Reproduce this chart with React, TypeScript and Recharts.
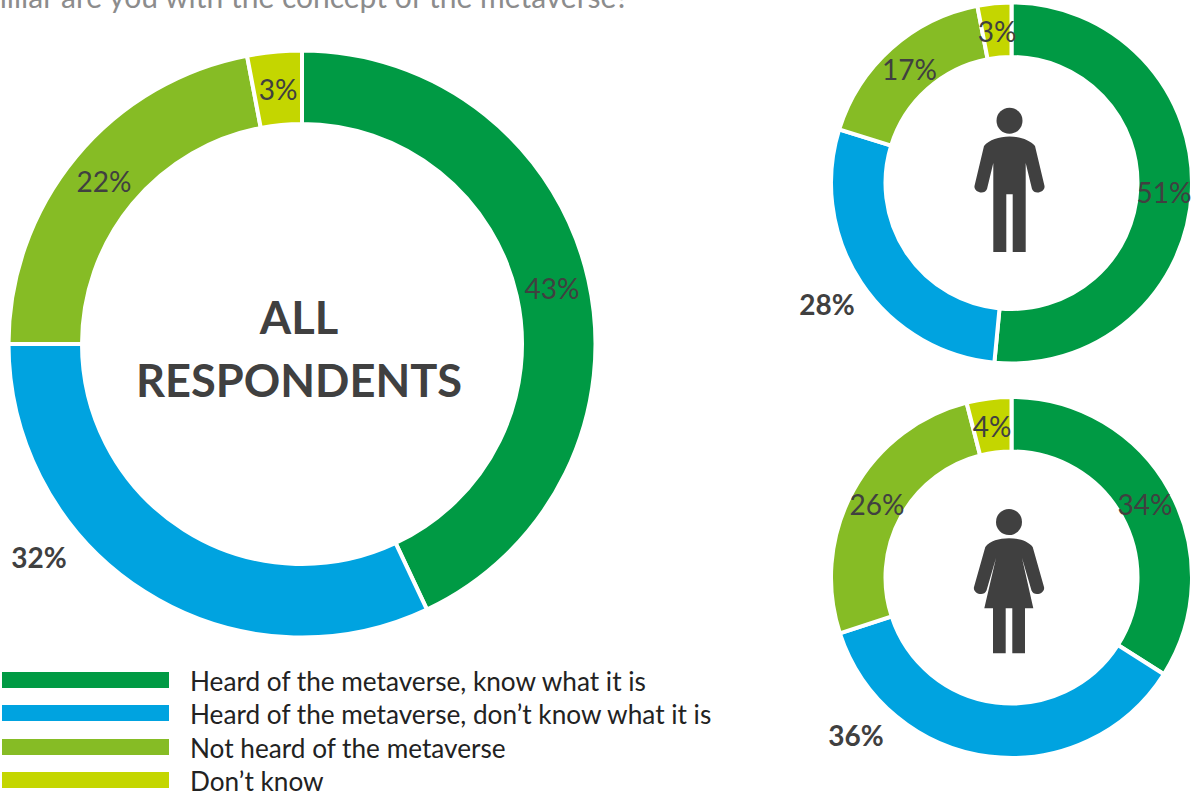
import { PieChart, Pie, Cell, Legend } from "recharts";

const categories = [
  "Heard of the metaverse, know what it is",
  "Heard of the metaverse, don\u2019t know what it is",
  "Not heard of the metaverse",
  "Don\u2019t know",
];
const allValues = [43, 32, 22, 3];
const menValues = [51, 28, 17, 3];
const womenValues = [34, 36, 26, 4];

const COLORS = ["#009A44", "#00A3E0", "#86BC25", "#C4D600"];
const TEXT = "#404040";
const FONT = "Lato, 'Open Sans', sans-serif";

// label spots, measured from the centre of each ring
const allSpots = [[250, -56.5], [-263, 212.5], [-198, -163.5], [-24, -255.5]];
const menSpots = [[152.5, 8.5], [-184.5, 120.5], [-102, -114.5], [-14.5, -152.5]];
const womenSpots = [[133.5, -74], [-155.5, 157], [-134.5, -74], [-19.5, -152]];

const toRows = (values: number[]) =>
  categories.map((name, i) => ({ name, value: values[i] }));

function ringLabel(spots: number[][], outsideIndex: number) {
  return (p: any) => (
    <text
      x={p.cx + spots[p.index][0]}
      y={p.cy + spots[p.index][1]}
      textAnchor="middle"
      dominantBaseline="central"
      fontFamily={FONT}
      fontSize={28}
      fontWeight={p.index === outsideIndex ? 700 : 400}
      fill={TEXT}
    >
      {p.value}%
    </text>
  );
}

function LegendRows() {
  return (
    <div style={{ fontFamily: FONT, fontSize: 26.2, lineHeight: "24px", color: "#222" }}>
      {categories.map((c, i) => (
        <div key={c} style={{ display: "flex", alignItems: "center", height: 33.3 }}>
          <div style={{ width: 167, height: 16, marginLeft: 2, background: COLORS[i] }} />
          <div style={{ marginLeft: 21, whiteSpace: "nowrap", position: "relative", top: 1 }}>{c}</div>
        </div>
      ))}
    </div>
  );
}

export default function App() {
  return (
    <div style={{ position: "absolute", left: 0, top: 0, width: 1195, height: 793, overflow: "hidden", background: "#fff" }}>
      <PieChart width={1195} height={793} margin={{ top: 0, right: 0, bottom: 0, left: 0 }}>
        <text x={629} y={8} textAnchor="end" fontFamily={FONT} fontSize={30} fill="#8C8C8C">
          How familiar are you with the concept of the metaverse?
        </text>

        <Pie
          data={toRows(allValues)}
          dataKey="value"
          cx={302}
          cy={344}
          innerRadius={220}
          outerRadius={293.5}
          startAngle={90}
          endAngle={-270}
          stroke="#fff"
          strokeWidth={4}
          label={ringLabel(allSpots, 1)}
          labelLine={false}
          isAnimationActive={false}
        >
          {allValues.map((_, i) => <Cell key={i} fill={COLORS[i]} />)}
        </Pie>
        <Pie
          data={toRows(menValues)}
          dataKey="value"
          cx={1011.5}
          cy={183}
          innerRadius={126}
          outerRadius={180.5}
          startAngle={90}
          endAngle={-270}
          stroke="#fff"
          strokeWidth={4}
          label={ringLabel(menSpots, 1)}
          labelLine={false}
          isAnimationActive={false}
        >
          {menValues.map((_, i) => <Cell key={i} fill={COLORS[i]} />)}
        </Pie>
        <Pie
          data={toRows(womenValues)}
          dataKey="value"
          cx={1011.5}
          cy={577.5}
          innerRadius={126}
          outerRadius={180.5}
          startAngle={90}
          endAngle={-270}
          stroke="#fff"
          strokeWidth={4}
          label={ringLabel(womenSpots, 1)}
          labelLine={false}
          isAnimationActive={false}
        >
          {womenValues.map((_, i) => <Cell key={i} fill={COLORS[i]} />)}
        </Pie>

        <text x={299} y={316.5} textAnchor="middle" dominantBaseline="central" fontFamily={FONT} fontWeight={700} fontSize={45.2} fill={TEXT}>ALL</text>
        <text x={299} y={379.5} textAnchor="middle" dominantBaseline="central" fontFamily={FONT} fontWeight={700} fontSize={45.2} fill={TEXT}>RESPONDENTS</text>

        {/* man */}
        <g transform="translate(960,100)" fill={TEXT}>
          <circle cx={49.5} cy={20.7} r={13} />
          <path d="M49.5 36.5C39 36.5 29 40 24 46L14.6 85.5C13 92 24.5 95.5 27 89L33.3 63V152H46.3V94.3H52.7V152H65.7V63L72 89C74.5 95.5 86 92 84.4 85.5L75 46C70 40 60 36.5 49.5 36.5Z" />
        </g>
        {/* woman */}
        <g transform="translate(960,500)" fill={TEXT}>
          <circle cx={49} cy={22} r={13} />
          <path d="M49 38.3C39 38.3 30 41 25.3 47L14 87C12.5 93.5 24 97 26.5 90.5L36 58L24.3 108.3H33V153.3H45.7V108.3H52.3V153.3H65V108.3H73.3L62 58L71.5 90.5C74 97 85.5 93.5 84 87L72.7 47C68 41 59 38.3 49 38.3Z" />
        </g>

        <Legend content={<LegendRows />} wrapperStyle={{ left: 0, top: 663.5, width: 760, bottom: "auto" }} />
      </PieChart>
    </div>
  );
}
